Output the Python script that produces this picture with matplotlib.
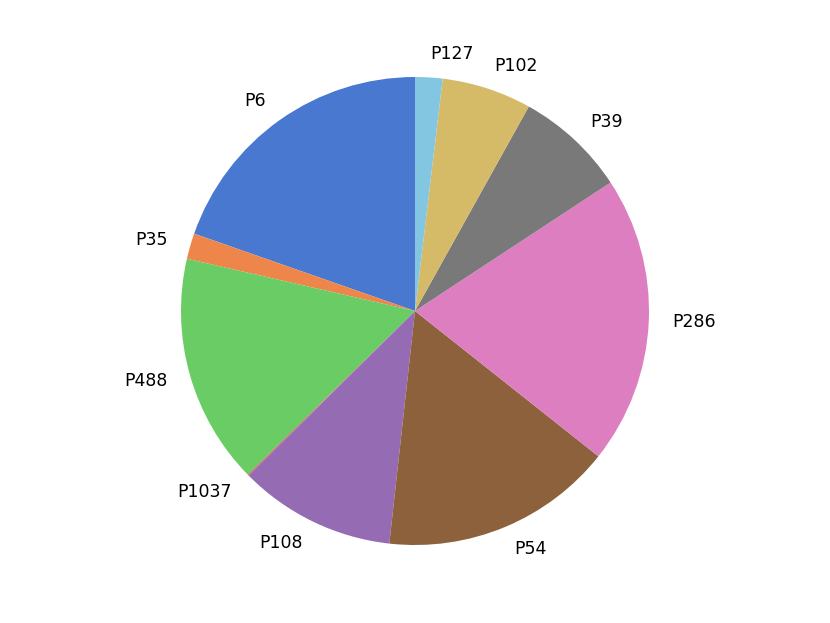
import matplotlib
matplotlib.use("Agg")
import matplotlib.pyplot as plt
import seaborn as sns

# slice labels and sizes (counter-clockwise from the top)
labels = ["P6", "P35", "P488", "P1037", "P108", "P54", "P286", "P39", "P102", "P127"]
sizes = [70.7, 6.4, 57.3, 0.3, 39.0, 57.9, 71.7, 27.6, 22.3, 6.8]

colors = sns.color_palette("muted", 10)

fig = plt.figure(figsize=(8.3, 6.23), dpi=100)
ax = fig.add_axes([(415 - 292.5) / 830, (623 - 311 - 292.5) / 623, 585 / 830, 585 / 623])
ax.pie(sizes, labels=labels, colors=colors, startangle=90, counterclock=True,
       textprops={"fontsize": 12.5})
ax.set_xlim(-1.25, 1.25)
ax.set_ylim(-1.25, 1.25)
ax.set_aspect("equal")

fig.savefig("out.png", dpi=100)
